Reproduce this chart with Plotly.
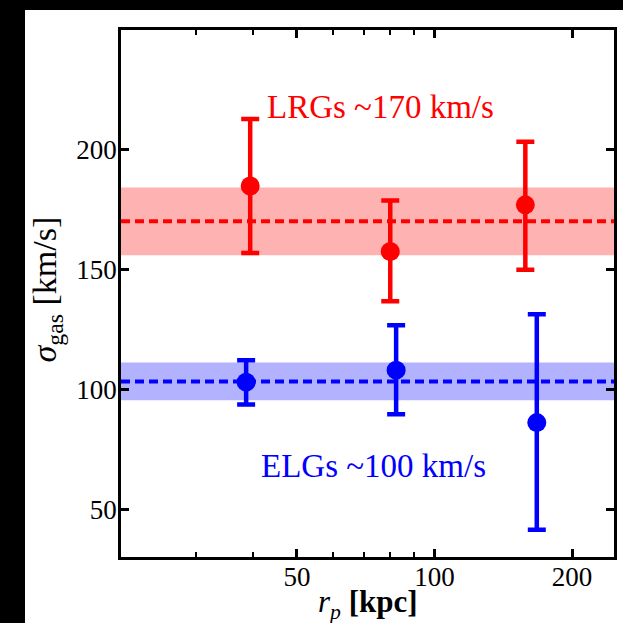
import numpy as np
import plotly.graph_objects as go

# ---- data ----
lrg_rp = [39.5, 80.0, 158.0]
lrg_sigma = [184.9, 157.5, 177.0]
lrg_err_plus = [27.9, 21.3, 26.3]
lrg_err_minus = [28.0, 20.7, 27.1]

elg_rp = [38.7, 82.4, 167.4]
elg_sigma = [103.0, 108.0, 86.1]
elg_err_plus = [9.1, 18.7, 45.2]
elg_err_minus = [9.3, 18.4, 44.7]

lrg_mean, lrg_band = 170.2, (156.0, 184.2)
elg_mean, elg_band = 103.3, (95.4, 111.2)

x_major_ticks = [50, 100, 200]
x_minor_ticks = [30, 40, 60, 70, 80, 90]
y_ticks = [50, 100, 150, 200]
x_range = [20.6, 247]
y_range = [30, 250]

RED = "#ff0000"
BLUE = "#0000ff"
FONT = "Liberation Serif"

W, H = 623, 623
ML, MR, MT, MB = 121, 9, 30, 66
PW, PH = W - ML - MR, H - MT - MB

fig = go.Figure()

for xs, ys, ep, em, col in [
    (lrg_rp, lrg_sigma, lrg_err_plus, lrg_err_minus, RED),
    (elg_rp, elg_sigma, elg_err_plus, elg_err_minus, BLUE),
]:
    fig.add_trace(go.Scatter(
        x=xs, y=ys, mode="markers",
        marker=dict(size=19, color=col),
        error_y=dict(type="data", symmetric=False, array=ep, arrayminus=em,
                     color=col, thickness=4.5, width=9),
        showlegend=False,
    ))

shapes = []
# bands
for (b0, b1), col in [(lrg_band, "rgba(255,0,0,0.3)"), (elg_band, "rgba(0,0,255,0.3)")]:
    shapes.append(dict(type="rect", xref="paper", yref="y", x0=0, x1=1, y0=b0, y1=b1,
                       fillcolor=col, line=dict(width=0), layer="below"))
# dashed mean lines
for m, col in [(lrg_mean, RED), (elg_mean, BLUE)]:
    shapes.append(dict(type="line", xref="paper", yref="y", x0=0, x1=1, y0=m, y1=m,
                       line=dict(color=col, width=4, dash="9px,5px"), layer="below"))
# black border strips of the image
shapes.append(dict(type="rect", xref="paper", yref="paper",
                   x0=-ML / PW, x1=-(ML - 25) / PW, y0=-MB / PH - 0.01, y1=1 + MT / PH + 0.01,
                   fillcolor="black", line=dict(width=0), layer="above"))
shapes.append(dict(type="rect", xref="paper", yref="paper",
                   x0=-ML / PW, x1=1 + MR / PW + 0.01, y0=1 + (MT - 10) / PH, y1=1 + MT / PH + 0.01,
                   fillcolor="black", line=dict(width=0), layer="above"))

annotations = [
    dict(x=np.log10(76), y=218, xref="x", yref="y", text="LRGs ~170 km/s",
         showarrow=False, font=dict(family=FONT, size=33, color=RED)),
    dict(x=np.log10(73.4), y=67.8, xref="x", yref="y", text="ELGs ~100 km/s",
         showarrow=False, font=dict(family=FONT, size=33, color=BLUE)),
    # axis titles
    dict(x=0.5, y=-47 / PH, xref="paper", yref="paper", xanchor="center", yanchor="middle",
         text="<i>r<sub>p</sub></i> <b>[kpc]</b>", showarrow=False,
         font=dict(family=FONT, size=31, color="black")),
    dict(x=(46 - ML) / PW, y=0.5 + 4 / PH, xref="paper", yref="paper", xanchor="center", yanchor="middle",
         text="<i>σ</i><sub>gas</sub> [km/s]", showarrow=False, textangle=-90,
         font=dict(family=FONT, size=34, color="black")),
]

axis_common = dict(
    showline=True, linecolor="black", linewidth=2.5, mirror="ticks",
    ticks="inside", ticklen=8, tickwidth=2.5, tickcolor="black",
    showgrid=False, zeroline=False, automargin=False,
    tickfont=dict(family=FONT, size=27, color="black"),
)

fig.update_layout(
    width=W, height=H,
    margin=dict(l=ML, r=MR, t=MT, b=MB),
    paper_bgcolor="white", plot_bgcolor="white",
    shapes=shapes, annotations=annotations,
    xaxis=dict(type="log", range=[np.log10(x_range[0]), np.log10(x_range[1])],
               tickmode="array", tickvals=x_major_ticks,
               ticktext=[str(v) for v in x_major_ticks],
               ticklabelstandoff=-6,
               minor=dict(tickmode="array", tickvals=x_minor_ticks, ticks="inside",
                          ticklen=5, tickwidth=2, tickcolor="black", showgrid=False),
               **axis_common),
    yaxis=dict(range=y_range, tickmode="array", tickvals=y_ticks,
               ticklabelstandoff=-4,
               **axis_common),
)

fig.write_html("out.html")
